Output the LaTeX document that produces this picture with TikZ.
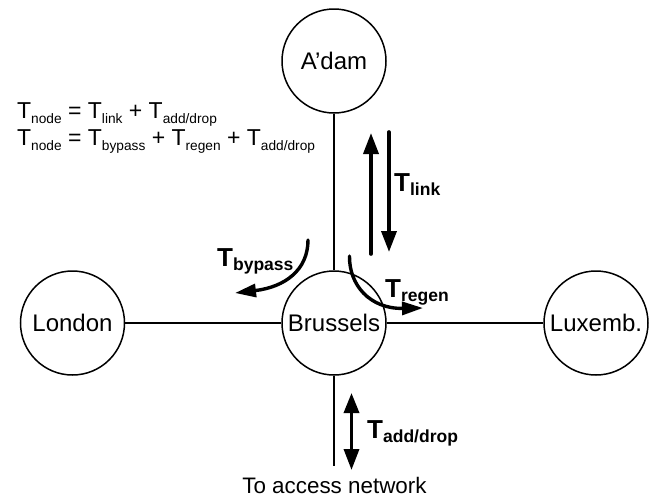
\documentclass[tikz,border=0pt]{standalone}
\usepackage{fontspec}
\setmainfont{Liberation Sans}
\usetikzlibrary{arrows.meta}
\newcommand{\bigf}{\fontsize{24}{24}\selectfont}
\newcommand{\eqf}{\fontsize{23}{23}\selectfont}
\newcommand{\Tr}[1]{T\raisebox{-4.5pt}{\fontsize{13.7}{13.7}\selectfont #1}}
\newcommand{\Tb}[1]{{\fontsize{26}{26}\bfseries\selectfont T\raisebox{-4.2pt}{\fontsize{17.5}{17.5}\selectfont #1}}}
\tikzset{
  city/.style={circle,draw,line width=1.5pt,fill=white,minimum size=104pt,inner sep=0pt,font=\bigf},
  linkline/.style={line width=1.5pt},
  bigarrow/.style={line width=3.6pt,line cap=round,-{Triangle[length=21pt,width=15pt]}},
  bothway/.style={line width=3.4pt,{Triangle[length=20pt,width=15pt]}-{Triangle[length=21pt,width=15pt]}},
  curvearrow/.style={line width=3.4pt,line cap=round,-{Triangle[length=21pt,width=13pt]}},
  blabel/.style={anchor=base west,inner sep=0pt},
  eq/.style={anchor=base west,inner sep=0pt,font=\eqf}
}
\begin{document}
\begin{tikzpicture}[x=1pt,y=-1pt]
\useasboundingbox (0,0) rectangle (653,499);
\node[city] (adam) at (334,61) {A’dam};
\node[city] (bru) at (334,323) {Brussels};
\node[city] (lon) at (72.5,323) {London};
\node[city] (lux) at (596,323) {Luxemb.};
\coordinate (acc) at (334,466);
\draw[linkline] (adam) -- (bru);
\draw[linkline] (lon) -- (bru);
\draw[linkline] (bru) -- (lux);
\draw[linkline] (bru) -- (acc);
\coordinate (upS) at (371,254); \coordinate (upE) at (371,133);
\coordinate (dnS) at (389,132); \coordinate (dnE) at (389,252);
\draw[bigarrow] (upS) -- (upE);
\draw[bigarrow] (dnS) -- (dnE);
\coordinate (bpS) at (308,240); \coordinate (bpE) at (235,293);
\draw[curvearrow] (bpS) .. controls (308,270) and (285,287) .. (bpE);
\coordinate (rgS) at (349.5,256); \coordinate (rgE) at (423,308);
\draw[curvearrow] (rgS) .. controls (349,285) and (370,309) .. (rgE);
\coordinate (adS) at (351.5,393); \coordinate (adE) at (351.5,470);
\draw[bothway] (adS) -- (adE);
\node[eq] (eq1) at (17,118.5) {\Tr{node} = \Tr{link} + \Tr{add/drop}};
\node[eq] (eq2) at (17,145.5) {\Tr{node} = \Tr{bypass} + \Tr{regen} + \Tr{add/drop}};
\node[blabel] (tlink) at (394,191) {\Tb{link}};
\node[blabel] (tby) at (217,266) {\Tb{bypass}};
\node[blabel] (treg) at (385,297) {\Tb{regen}};
\node[blabel] (tad) at (367,438) {\Tb{add/drop}};
\node[anchor=base,inner sep=0pt,font=\fontsize{22.4}{22.4}\selectfont] (net) at (334.5,493) {To access network};
\end{tikzpicture}
\end{document}
